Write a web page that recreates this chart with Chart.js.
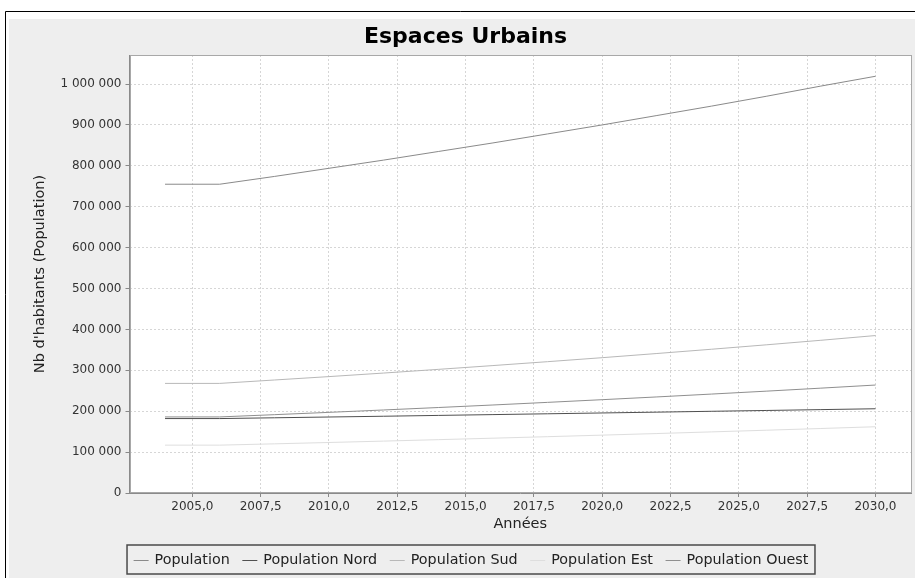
<!DOCTYPE html>
<html>
<head>
<meta charset="utf-8">
<script src="https://cdn.jsdelivr.net/npm/chart.js@4.4.1/dist/chart.umd.min.js"></script>
<style>
  html, body { margin: 0; padding: 0; background: #ffffff; overflow: hidden; }
  #wrap { width: 915px; height: 578px; position: relative; }
</style>
</head>
<body>
<div id="wrap"><canvas id="c" width="915" height="578"></canvas></div>
<script>
// ---- data ----
const chartTitle = "Espaces Urbains";
const xTitle = "Années";
const yTitle = "Nb d'habitants (Population)";
const years = [2004, 2006, 2008, 2010, 2012, 2014, 2016, 2018, 2020, 2022, 2024, 2026, 2028, 2030];
const population      = [755000, 755000, 774000, 794000, 814000, 835000, 856000, 878000, 900000, 923000, 946000, 970000, 995000, 1019000];
const populationNord  = [182000, 182000, 183900, 185800, 187700, 189700, 191700, 193700, 195700, 197700, 199800, 201800, 203900, 206000];
const populationSud   = [268000, 268000, 276300, 284600, 293300, 302300, 311600, 321100, 330900, 341100, 351500, 362300, 373400, 385000];
const populationEst   = [117000, 117000, 120200, 123500, 126900, 130400, 134000, 137700, 141500, 145400, 149400, 153500, 157700, 162000];
const populationOuest = [186000, 186000, 191500, 197200, 203000, 209000, 215200, 221600, 228200, 234900, 241900, 249000, 256400, 264000];
const seriesNames = ["Population", "Population Nord", "Population Sud", "Population Est", "Population Ouest"];
const xTickValues = [2005, 2007.5, 2010, 2012.5, 2015, 2017.5, 2020, 2022.5, 2025, 2027.5, 2030];
const yTickValues = [0, 100000, 200000, 300000, 400000, 500000, 600000, 700000, 800000, 900000, 1000000];

// ---- styling ----
const seriesColors = ["#8a8a8a", "#505050", "#b8b8b8", "#dedede", "#8f8f8f"];
const seriesValues = [population, populationNord, populationSud, populationEst, populationOuest];
const FONT = "'DejaVu Sans', 'Noto Sans', sans-serif";

function toPoints(vals) { return years.map((x, i) => ({ x: x, y: vals[i] })); }

function fmtThousands(v) {
  return String(Math.round(v)).replace(/\B(?=(\d{3})+(?!\d))/g, ' ');
}

const panelPlugin = {
  id: 'panel',
  beforeDraw(chart) {
    const ctx = chart.ctx;
    const a = chart.chartArea;
    ctx.save();
    ctx.fillStyle = '#ffffff';
    ctx.fillRect(0, 0, chart.width, chart.height);
    ctx.fillStyle = '#eeeeee';
    ctx.fillRect(9, 19, chart.width - 9, chart.height - 19);
    ctx.strokeStyle = '#000000';
    ctx.lineWidth = 1;
    ctx.beginPath();
    ctx.moveTo(5.5, chart.height);
    ctx.lineTo(5.5, 11.5);
    ctx.lineTo(chart.width, 11.5);
    ctx.stroke();
    ctx.fillStyle = '#ffffff';
    ctx.fillRect(a.left, a.top, a.right - a.left, a.bottom - a.top);
    ctx.restore();
  },
  afterDraw(chart) {
    const ctx = chart.ctx;
    const a = chart.chartArea;
    ctx.save();
    ctx.strokeStyle = '#a8a8a8';
    ctx.lineWidth = 1;
    ctx.strokeRect(Math.round(a.left) + 0.5, Math.round(a.top) + 0.5,
                   Math.round(a.right - a.left) - 1, Math.round(a.bottom - a.top) - 1);
    ctx.restore();
  }
};

const boxLegendPlugin = {
  id: 'boxLegend',
  afterDraw(chart) {
    const ctx = chart.ctx;
    const sets = chart.data.datasets;
    ctx.save();
    ctx.font = "14.3px " + FONT;
    const sample = 15, gapText = 6, gapItem = 12.6, pad = 6.6;
    let total = pad * 2;
    const widths = sets.map(d => ctx.measureText(d.label).width);
    widths.forEach((w, i) => { total += sample + gapText + w + (i < widths.length - 1 ? gapItem : 0); });
    const cx = 471;
    const top = 545, bottom = 574;
    let x = cx - total / 2;
    ctx.strokeStyle = '#4a4a4a';
    ctx.lineWidth = 1.5;
    ctx.strokeRect(x, top, total, bottom - top);
    const cy = (top + bottom) / 2;
    x += pad;
    ctx.textBaseline = 'middle';
    ctx.textAlign = 'left';
    sets.forEach((d, i) => {
      ctx.strokeStyle = d.borderColor;
      ctx.lineWidth = 1;
      ctx.beginPath();
      ctx.moveTo(x, Math.round(cy) + 0.5);
      ctx.lineTo(x + sample, Math.round(cy) + 0.5);
      ctx.stroke();
      x += sample + gapText;
      ctx.fillStyle = '#222222';
      ctx.fillText(d.label, x, cy + 0.5);
      x += widths[i] + gapItem;
    });
    ctx.restore();
  }
};

const datasets = seriesNames.map((name, i) => ({
  label: name,
  data: toPoints(seriesValues[i]),
  borderColor: seriesColors[i],
  backgroundColor: seriesColors[i],
  borderWidth: 1,
  pointRadius: 0,
  pointHoverRadius: 0,
  tension: 0,
  fill: false
}));

new Chart(document.getElementById('c'), {
  type: 'line',
  data: { datasets: datasets },
  plugins: [panelPlugin, boxLegendPlugin],
  options: {
    responsive: false,
    animation: false,
    devicePixelRatio: 1,
    layout: { padding: { left: 20, right: 4, top: 19, bottom: 45 } },
    plugins: {
      legend: { display: false },
      tooltip: { enabled: false },
      title: {
        display: true,
        text: chartTitle,
        color: '#000000',
        font: { family: FONT, size: 22, weight: 'bold', lineHeight: 1.2 },
        padding: { top: 4.8, bottom: 4.8 }
      }
    },
    scales: {
      x: {
        type: 'linear',
        min: 2002.7,
        max: 2031.3,
        afterBuildTicks(axis) { axis.ticks = xTickValues.map(v => ({ value: v })); },
        afterFit(axis) { axis.height = 40; },
        ticks: {
          autoSkip: false,
          maxRotation: 0,
          padding: 3,
          color: '#333333',
          font: { family: FONT, size: 12 },
          callback: (v) => Number(v).toFixed(1).replace('.', ',')
        },
        grid: { color: '#d6d6d6', lineWidth: 1, drawTicks: true, tickLength: 4, tickColor: '#888888', tickBorderDash: [] },
        border: { display: true, color: '#8a8a8a', width: 1, dash: [2, 2] },
        title: {
          display: true, text: xTitle, color: '#222222',
          font: { family: FONT, size: 14.5 }, padding: { top: 0, bottom: 0 }
        }
      },
      y: {
        type: 'linear',
        min: 0,
        max: 1071000,
        afterBuildTicks(axis) { axis.ticks = yTickValues.map(v => ({ value: v })); },
        afterFit(axis) { axis.width = 109.5; },
        ticks: {
          padding: 4,
          color: '#333333',
          font: { family: FONT, size: 12 },
          callback: (v) => fmtThousands(v)
        },
        grid: { color: '#d6d6d6', lineWidth: 1, drawTicks: true, tickLength: 4, tickColor: '#888888', tickBorderDash: [] },
        border: { display: true, color: '#8a8a8a', width: 1, dash: [2, 2] },
        title: {
          display: true, text: yTitle, color: '#222222',
          font: { family: FONT, size: 14.5 }, padding: { top: 11.3, bottom: 0 }
        }
      }
    }
  }
});
</script>
</body>
</html>
